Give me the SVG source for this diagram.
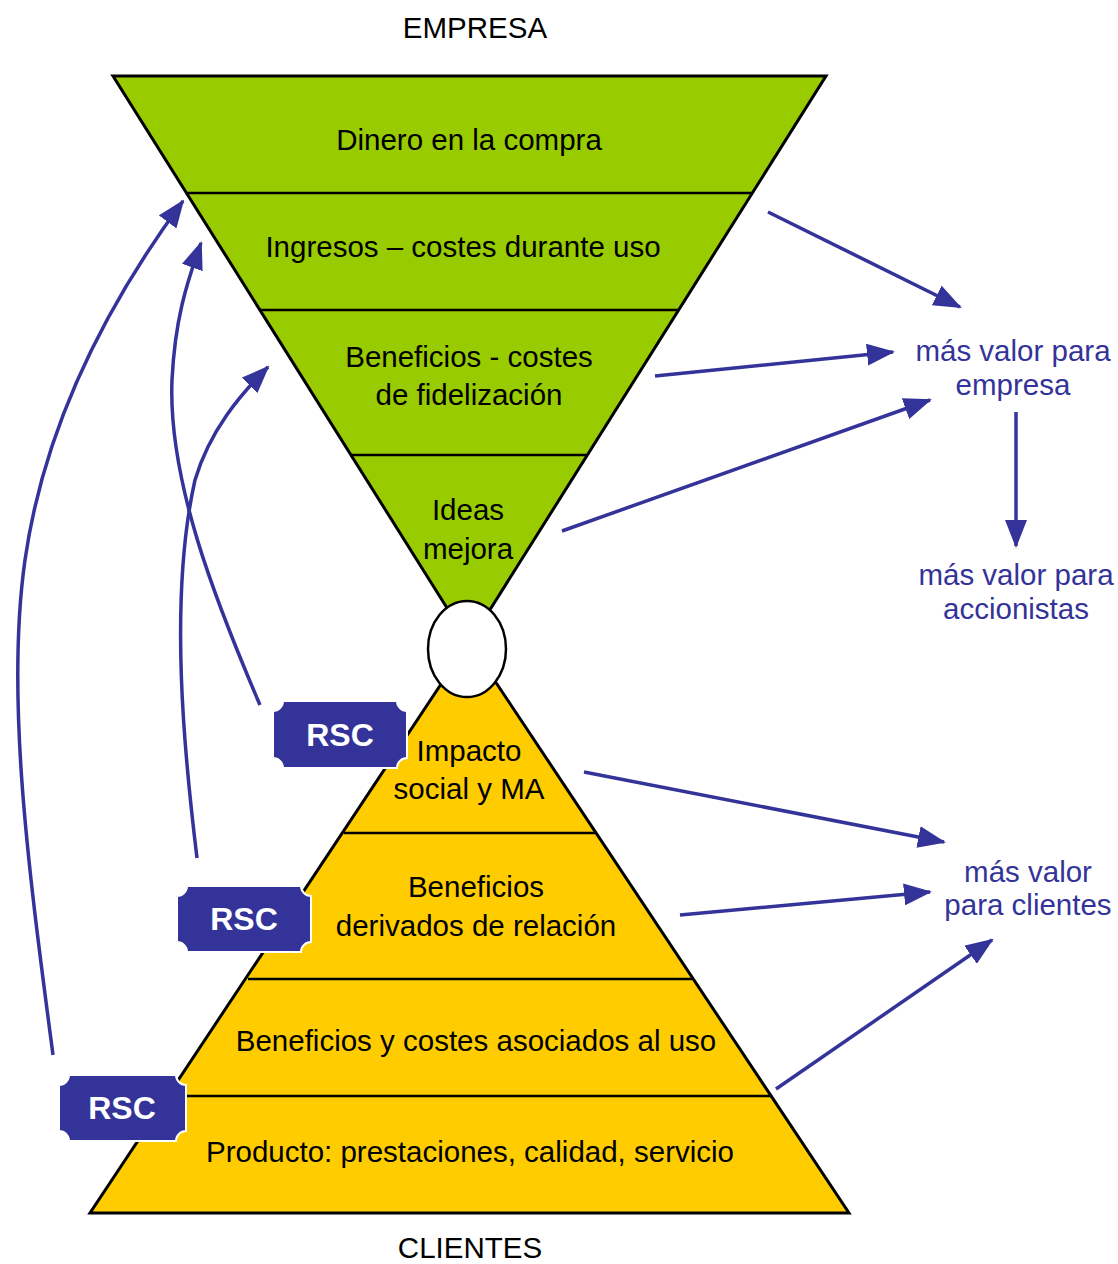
<svg xmlns="http://www.w3.org/2000/svg" width="1118" height="1264" viewBox="0 0 1118 1264">
<defs>
<style>
text{font-family:"Liberation Sans",Arial,sans-serif;font-size:29.5px;text-anchor:middle}
.t{fill:#000}
.b{fill:#333399}
.rsc{fill:#fff;font-weight:bold;font-size:32px}
.conn{stroke:#333399;stroke-width:3.5;fill:none}
.band{stroke:#000;stroke-width:2.5}
.badge{fill:#333399;stroke:#fff;stroke-width:2}
</style>
<marker id="ah" markerUnits="userSpaceOnUse" markerWidth="28" markerHeight="22" refX="26" refY="11" orient="auto">
<path d="M0,0 L28,11 L0,22 Z" fill="#333399"/>
</marker>
</defs>
<rect width="1118" height="1264" fill="#fff"/>

<g id="top-funnel">
<polygon points="113,76 826,76 469,643" fill="#99CC00" stroke="#000" stroke-width="3"/>
<line class="band" x1="186" y1="193" x2="752" y2="193"/>
<line class="band" x1="259" y1="310" x2="679" y2="310"/>
<line class="band" x1="350" y1="455" x2="588" y2="455"/>
</g>
<g id="bottom-pyramid">
<polygon points="469,642 849,1213 90,1213" fill="#FFCC00" stroke="#000" stroke-width="3"/>
<line class="band" x1="344" y1="833" x2="596" y2="833"/>
<line class="band" x1="248" y1="979" x2="692" y2="979"/>
<line class="band" x1="170" y1="1096" x2="772" y2="1096"/>
</g>
<g id="center">
<ellipse cx="467" cy="649" rx="39" ry="48" fill="#fff" stroke="#000" stroke-width="2.5"/>
</g>

<g id="labels">
<text class="t" x="475" y="38">EMPRESA</text>
<text class="t" x="470" y="1258">CLIENTES</text>
</g>
<g id="n-dinero"><text class="t" x="469" y="150">Dinero en la compra</text></g>
<g id="n-ingresos"><text class="t" x="463" y="257">Ingresos – costes durante uso</text></g>
<g id="n-beneficios-fid"><text class="t" x="469" y="367">Beneficios - costes</text><text class="t" x="469" y="405">de fidelización</text></g>
<g id="n-ideas"><text class="t" x="468" y="520">Ideas</text><text class="t" x="468" y="559">mejora</text></g>
<g id="n-impacto"><text class="t" x="469" y="761">Impacto</text><text class="t" x="469" y="799">social y MA</text></g>
<g id="n-relacion"><text class="t" x="476" y="897">Beneficios</text><text class="t" x="476" y="936">derivados de relación</text></g>
<g id="n-uso"><text class="t" x="476" y="1051">Beneficios y costes asociados al uso</text></g>
<g id="n-producto"><text class="t" x="470" y="1162">Producto: prestaciones, calidad, servicio</text></g>

<g id="n-valor-empresa"><text class="b" x="1013" y="361">más valor para</text><text class="b" x="1013" y="395">empresa</text></g>
<g id="n-valor-accionistas"><text class="b" x="1016" y="585">más valor para</text><text class="b" x="1016" y="619">accionistas</text></g>
<g id="n-valor-clientes"><text class="b" x="1028" y="882">más valor</text><text class="b" x="1028" y="915">para clientes</text></g>

<g id="connectors">
<line class="conn" x1="768" y1="212" x2="960" y2="307" marker-end="url(#ah)"/>
<line class="conn" x1="655" y1="376" x2="893" y2="352" marker-end="url(#ah)"/>
<line class="conn" x1="562" y1="531" x2="930" y2="400" marker-end="url(#ah)"/>
<line class="conn" x1="1016" y1="412" x2="1016" y2="546" marker-end="url(#ah)"/>
<line class="conn" x1="584" y1="772" x2="944" y2="842" marker-end="url(#ah)"/>
<line class="conn" x1="680" y1="915" x2="930" y2="892" marker-end="url(#ah)"/>
<line class="conn" x1="776" y1="1089" x2="992" y2="940" marker-end="url(#ah)"/>
<path class="conn" d="M260,705 C215,600 168,480 172,380 C175,320 186,285 201,243" marker-end="url(#ah)"/>
<path class="conn" d="M197,858 C185,760 168,600 195,480 C210,430 240,395 268,367" marker-end="url(#ah)"/>
<path class="conn" d="M53,1055 C30,880 5,700 25,560 C45,420 110,300 183,201" marker-end="url(#ah)"/>
</g>

<g id="rsc-1">
<path class="badge" d="M283,701 H397 A10,10 0 0 0 407,711 V758 A10,10 0 0 0 397,768 H283 A10,10 0 0 0 273,758 V711 A10,10 0 0 0 283,701 Z"/>
<text class="rsc" x="340" y="746">RSC</text>
</g>
<g id="rsc-2">
<path class="badge" d="M187,886 H301 A10,10 0 0 0 311,896 V942 A10,10 0 0 0 301,952 H187 A10,10 0 0 0 177,942 V896 A10,10 0 0 0 187,886 Z"/>
<text class="rsc" x="244" y="930">RSC</text>
</g>
<g id="rsc-3">
<path class="badge" d="M69,1075 H176 A10,10 0 0 0 186,1085 V1131 A10,10 0 0 0 176,1141 H69 A10,10 0 0 0 59,1131 V1085 A10,10 0 0 0 69,1075 Z"/>
<text class="rsc" x="122" y="1119">RSC</text>
</g>
</svg>
